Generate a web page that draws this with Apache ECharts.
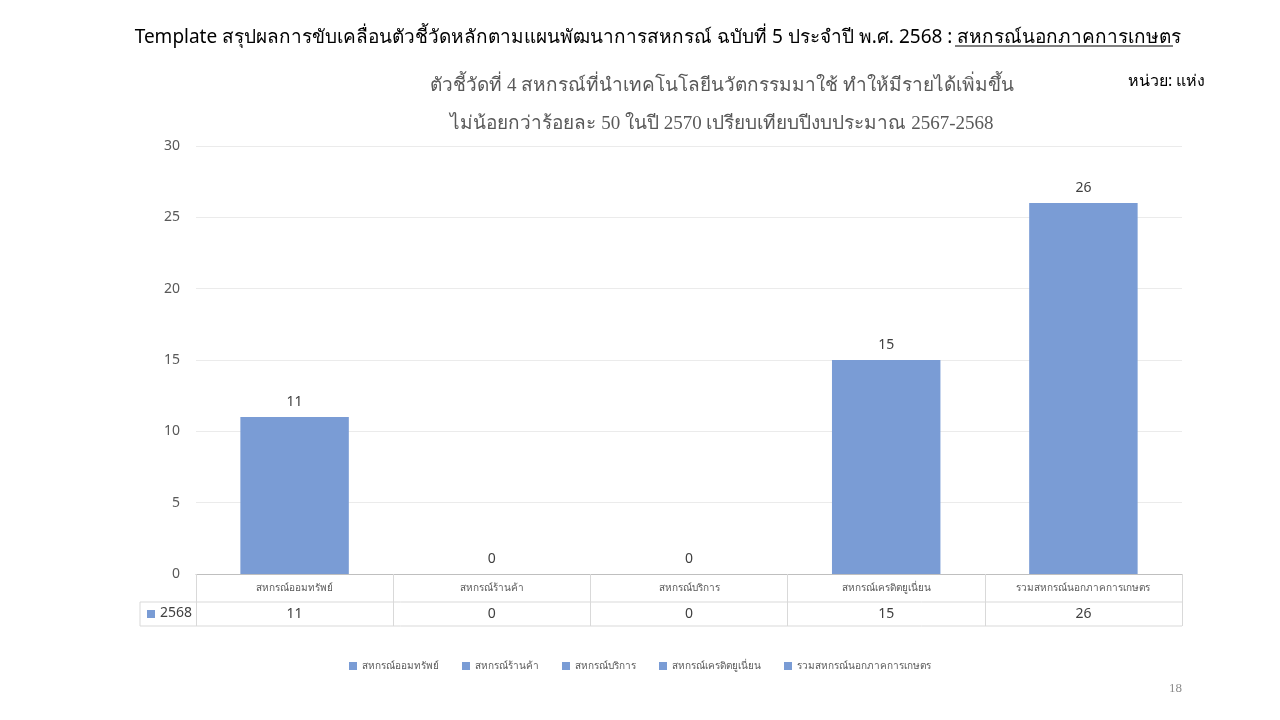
<!DOCTYPE html>
<html>
<head>
<meta charset="utf-8">
<script src="https://cdn.jsdelivr.net/npm/echarts@6/dist/echarts.min.js"></script>
<style>
html,body{margin:0;padding:0;background:#fff;}
#c{width:1280px;height:720px;}
</style>
</head>
<body>
<div id="c"></div>
<script>
const categories = ['สหกรณ์ออมทรัพย์','สหกรณ์ร้านค้า','สหกรณ์บริการ','สหกรณ์เครดิตยูเนี่ยน','รวมสหกรณ์นอกภาคการเกษตร'];
const values2568 = [11, 0, 0, 15, 26];
const seriesYear = '2568';
const yTicks = {min: 0, max: 30, interval: 5};

const BAR = '#7A9CD5';
const G = {left: 196, right: 98, top: 146, bottom: 146};
const chart = echarts.init(document.getElementById('c'));

const series = categories.map((name, i) => ({
  name: name,
  type: 'bar',
  stack: 'all',
  barWidth: '55%',
  itemStyle: {color: BAR},
  label: {show: true, position: 'top', color: '#404040', fontSize: 14, distance: 8,
          fontFamily: 'Noto Sans, sans-serif'},
  data: values2568.map((v, j) => (j === i ? v : '-'))
}));

const tableTop = 720 - G.bottom;
const tableMid = tableTop + 28;
const tableBot = tableMid + 24;
const right = 1280 - G.right;

const titleFont = 'Tahoma, Noto Sans, sans-serif';

chart.setOption({
  animation: false,
  title: [{
    text: 'Template สรุปผลการขับเคลื่อนตัวชี้วัดหลักตามแผนพัฒนาการสหกรณ์ ฉบับที่ 5 ประจำปี พ.ศ. 2568 : สหกรณ์นอกภาคการเกษตร',
    left: 653, top: 23, textAlign: 'center',
    textStyle: {fontSize: 19, color: '#000', fontWeight: 'normal', fontFamily: titleFont}
  }, {
    text: 'ตัวชี้วัดที่ 4 สหกรณ์ที่นำเทคโนโลยีนวัตกรรมมาใช้ ทำให้มีรายได้เพิ่มขึ้น\nไม่น้อยกว่าร้อยละ 50 ในปี 2570 เปรียบเทียบปีงบประมาณ 2567-2568',
    left: 717, top: 62, textAlign: 'center',
    textStyle: {fontSize: 19, fontWeight: 'normal', color: '#595959', lineHeight: 38,
                fontFamily: 'serif'}
  }, {
    text: 'หน่วย: แห่ง', left: 1123, top: 68,
    textStyle: {fontSize: 16, fontWeight: 'normal', color: '#000', fontFamily: titleFont}
  }, {
    text: '18', left: 1164, top: 677,
    textStyle: {fontSize: 13, fontWeight: 'normal', color: '#8c8c8c', fontFamily: 'serif'}
  }],
  legend: {
    bottom: 44, left: 'center', itemWidth: 8, itemHeight: 8, itemGap: 23,
    icon: 'rect',
    textStyle: {fontSize: 10, color: '#595959', fontFamily: 'Noto Sans, sans-serif'},
    data: categories
  },
  grid: {left: G.left, right: G.right, top: G.top, bottom: G.bottom},
  xAxis: {
    type: 'category', data: categories,
    axisLine: {lineStyle: {color: '#bfbfbf'}},
    axisTick: {show: true, interval: 0, length: 52, lineStyle: {color: '#d9d9d9'}},
    axisLabel: {
      interval: 0, margin: 0,
      formatter: (v, i) => '{c|' + v + '}\n{v|' + values2568[i] + '}',
      rich: {
        c: {height: 28, lineHeight: 28, fontSize: 10, color: '#595959', fontFamily: 'Noto Sans, sans-serif'},
        v: {height: 24, lineHeight: 24, fontSize: 14, color: '#404040', fontFamily: 'Noto Sans, sans-serif'}
      }
    }
  },
  yAxis: {
    type: 'value', min: yTicks.min, max: yTicks.max, interval: yTicks.interval,
    axisLine: {show: false}, axisTick: {show: false},
    axisLabel: {color: '#595959', fontSize: 14, margin: 16, fontFamily: 'Noto Sans, sans-serif'},
    splitLine: {lineStyle: {color: '#ebebeb'}}
  },
  graphic: [
    {type: 'line', shape: {x1: 140, y1: tableMid, x2: right, y2: tableMid}, style: {stroke: '#d9d9d9', lineWidth: 1}},
    {type: 'line', shape: {x1: 140, y1: tableBot, x2: right, y2: tableBot}, style: {stroke: '#d9d9d9', lineWidth: 1}},
    {type: 'line', shape: {x1: 140, y1: tableMid, x2: 140, y2: tableBot}, style: {stroke: '#d9d9d9', lineWidth: 1}},
    {type: 'rect', shape: {x: 147, y: tableMid + 8, width: 8, height: 8}, style: {fill: BAR}},
    {type: 'text', left: 160, top: tableMid + 4, style: {text: seriesYear, fontSize: 14, fill: '#404040', fontFamily: 'Noto Sans, sans-serif'}},
    {type: 'line', shape: {x1: 955, y1: 46, x2: 1173, y2: 46}, style: {stroke: '#000', lineWidth: 1.2}}
  ],
  series: series
});
</script>
</body>
</html>
